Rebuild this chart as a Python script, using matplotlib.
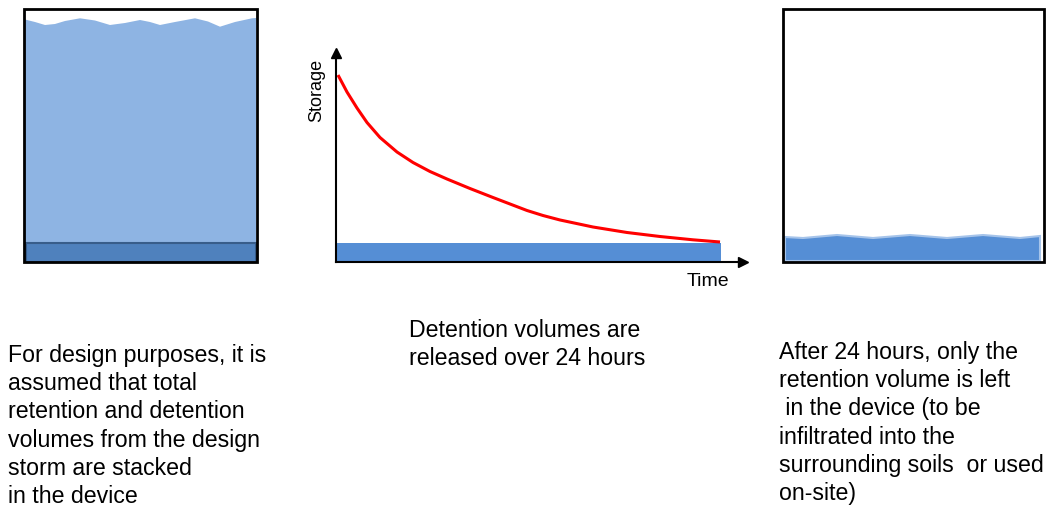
import numpy as np
import matplotlib
matplotlib.use("Agg")
import matplotlib.pyplot as plt
from matplotlib.patches import Rectangle, Polygon

plt.rcParams['font.family'] = ['Liberation Sans', 'DejaVu Sans']

# storage curve (time in hours, storage relative to retention volume)
time_h = [0.125, 0.686, 1.309, 1.932, 2.743, 3.803, 4.800, 5.860, 6.919,
          8.353, 9.787, 10.847, 11.906, 12.904, 13.964, 16.021, 18.140,
          20.197, 22.254, 23.938]
storage = [9.842, 8.947, 8.105, 7.342, 6.553, 5.789, 5.237, 4.763, 4.368,
           3.868, 3.395, 3.053, 2.711, 2.447, 2.211, 1.842, 1.553, 1.342,
           1.168, 1.053]
retention = 1.0

# water surface of the full box (pixel coords)
wave_full_x = [25, 35, 45, 55, 65, 80, 95, 110, 125, 140, 150, 160, 175,
               195, 208, 220, 235, 252, 256]
wave_full_y = [19.5, 22, 25, 24, 21, 18.3, 20.5, 25, 23, 20, 22, 25, 22,
               18.3, 21.5, 26.7, 22, 18.3, 18]
# water surface of the drained box
wave_low_x = [785, 803, 837, 873, 910, 947, 983, 1020, 1040]
wave_low_y = [237, 238, 235, 238, 235, 238, 235, 238, 236]

left_text = ["For design purposes, it is", "assumed that total",
             "retention and detention", "volumes from the design",
             "storm are stacked", "in the device"]
mid_text = ["Detention volumes are", "released over 24 hours"]
right_text = ["After 24 hours, only the", "retention volume is left",
              " in the device (to be", "infiltrated into the",
              "surrounding soils  or used", "on-site)"]

W, H = 1049, 509
fig = plt.figure(figsize=(W / 100, H / 100), dpi=100)

# overlay in pixel units for the boxes and notes
ax = fig.add_axes([0, 0, 1, 1])
ax.set_xlim(0, W)
ax.set_ylim(H, 0)
ax.axis('off')

# left box: retention + detention stacked
top = list(zip(wave_full_x, wave_full_y))
ax.add_patch(Polygon(top + [(256, 243), (25, 243)], closed=True,
                     facecolor='#8EB4E3', edgecolor='none'))
ax.add_patch(Rectangle((26, 243), 230, 19, facecolor='#4F81BD',
                       edgecolor='#385D8A', lw=1.5))
ax.add_patch(Rectangle((24, 9), 233, 253, facecolor='none',
                       edgecolor='black', lw=2.0, zorder=5))

# right box: only retention left
low = list(zip(wave_low_x, wave_low_y))
ax.add_patch(Polygon(low + [(1040, 261), (785, 261)], closed=True,
                     facecolor='#558ED5', edgecolor='#A6C4EA', lw=1.5))
ax.add_patch(Rectangle((783, 9), 261, 253, facecolor='none',
                       edgecolor='black', lw=2.0, zorder=5))

fs = 16.7
for i, s in enumerate(left_text):
    ax.text(8, 362 + i * 28.2, s, fontsize=fs, va='baseline', ha='left')
for i, s in enumerate(mid_text):
    ax.text(409, 337 + i * 28.2, s, fontsize=fs, va='baseline', ha='left')
for i, s in enumerate(right_text):
    ax.text(779, 359 + i * 28.2, s, fontsize=fs, va='baseline', ha='left')

# middle chart in data units
x0, x1, y0, y1 = 336, 743, 262, 53
px_per_h = 385 / 24
px_per_unit = 19
cax = fig.add_axes([x0 / W, (H - y0) / H, (x1 - x0) / W, (y0 - y1) / H])
cax.set_xlim(0, (x1 - x0) / px_per_h)
cax.set_ylim(0, (y0 - y1) / px_per_unit)
cax.patch.set_alpha(0)
for sp in ['top', 'right']:
    cax.spines[sp].set_visible(False)
for sp in ['left', 'bottom']:
    cax.spines[sp].set_linewidth(1.5)
cax.set_xticks([])
cax.set_yticks([])
cax.fill_between([0, 24], 0, retention, color='#558ED5', lw=0)
cax.plot(time_h, storage, color='#FF0000', lw=2.2, solid_capstyle='butt',
         solid_joinstyle='round')
cax.plot(1, 0, '>k', ms=7, transform=cax.transAxes, clip_on=False)
cax.plot(0, 1, '^k', ms=7, transform=cax.transAxes, clip_on=False)
cax.set_ylabel('Storage', fontsize=13, labelpad=2)
cax.yaxis.set_label_coords(-0.027, 0.823)
cax.text(0.914, -0.091, 'Time', fontsize=14, ha='center', va='center',
         transform=cax.transAxes)

fig.savefig('out.png', dpi=100)
